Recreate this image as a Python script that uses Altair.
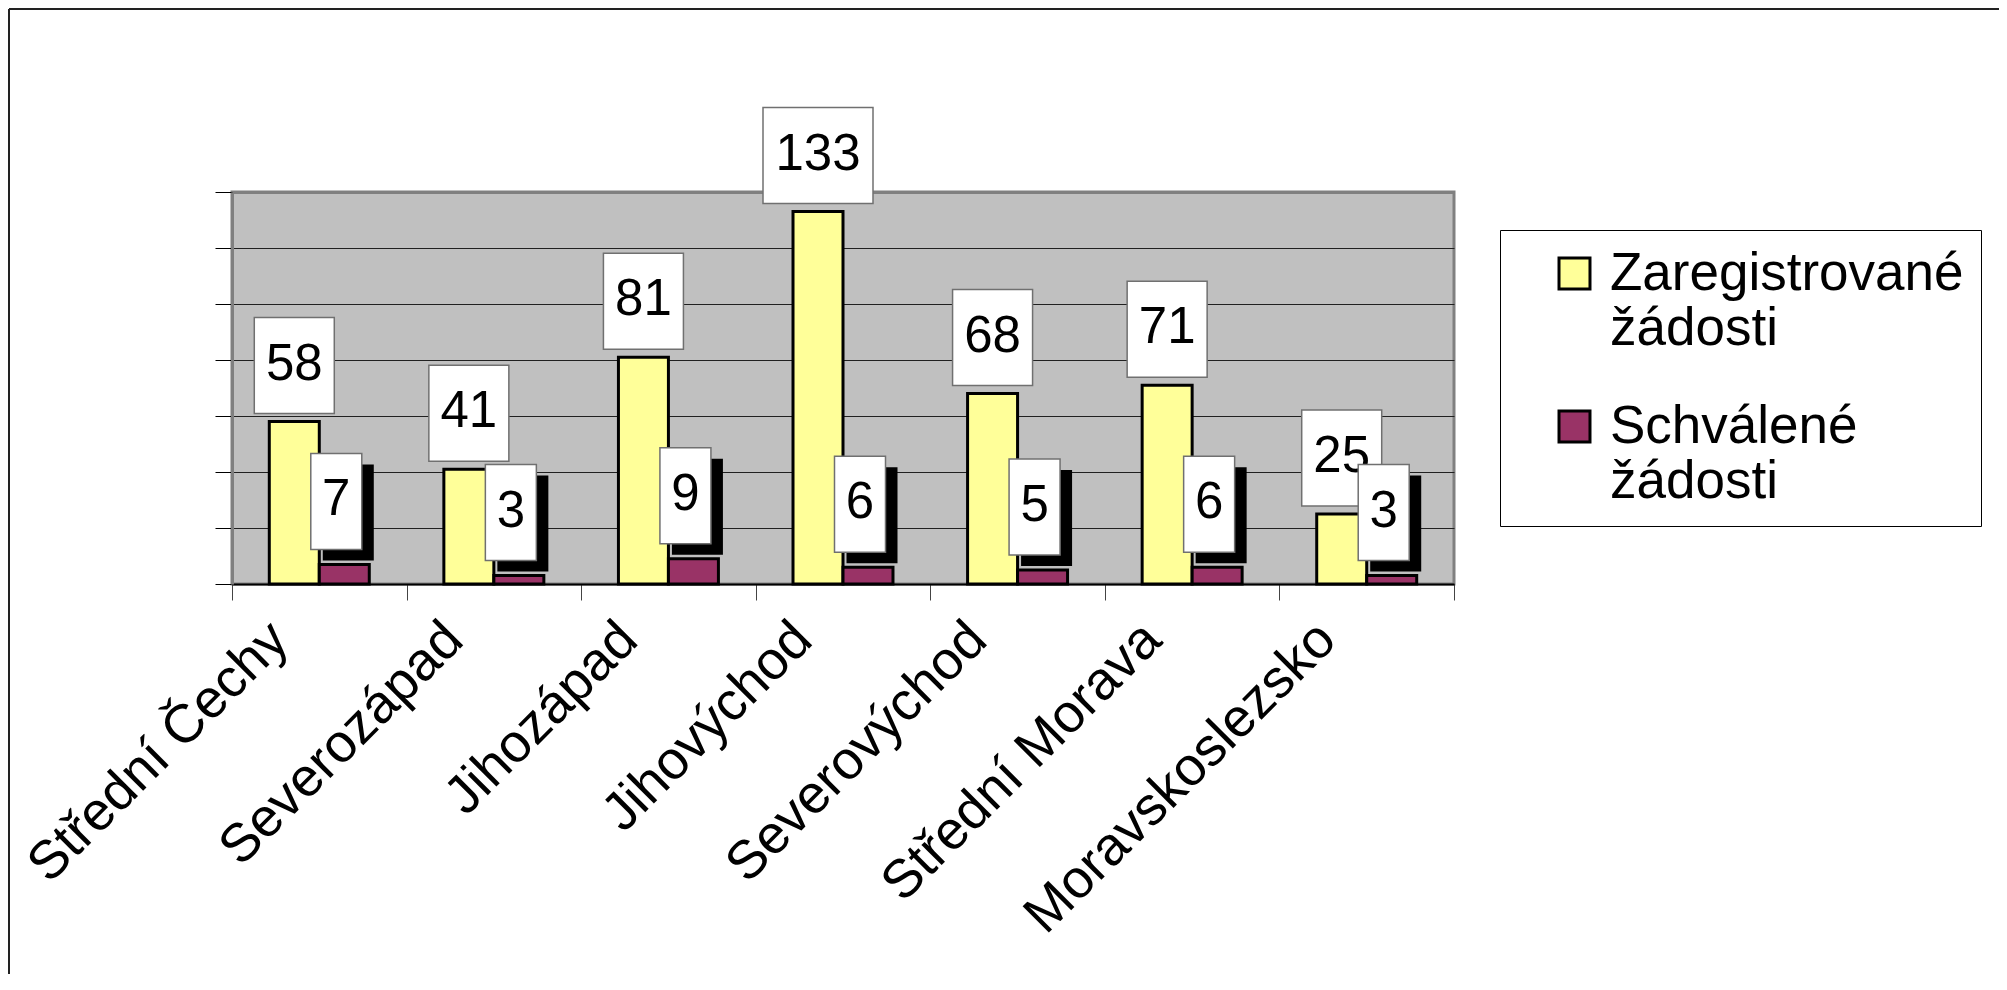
import altair as alt
import pandas as pd

regions = ["Střední Čechy", "Severozápad", "Jihozápad", "Jihovýchod",
           "Severovýchod", "Střední Morava", "Moravskoslezsko"]
registered = [58, 41, 81, 133, 68, 71, 25]
approved = [7, 3, 9, 6, 5, 6, 3]
series = ["Zaregistrované žádosti", "Schválené žádosti"]
colors = ["#FFFF99", "#993366"]
y_ticks = [0, 20, 40, 60, 80, 100, 120, 140]

rows = []
for r, a, b in zip(regions, registered, approved):
    rows.append({"region": r, "series": series[0], "s": 0, "value": a})
    rows.append({"region": r, "series": series[1], "s": 1, "value": b})
df = pd.DataFrame(rows)
df["value2"] = df["value"]
df["label"] = df["value"].astype(str)
df["digits"] = df["label"].str.len()

FONT = "Liberation Sans"
FS = 51
W, H = 1222, 392

x_enc = alt.X(
    "region:N", sort=regions, title=None,
    scale=alt.Scale(paddingInner=0, paddingOuter=0),
    axis=alt.Axis(
        labelAngle=315, labelAlign="right", labelBaseline="middle",
        labelFont=FONT, labelFontSize=54, labelColor="black",
        labelOffset=-40, labelPadding=31, labelLimit=1000,
        tickBand="extent", tickSize=16, tickColor="#444444", tickWidth=1,
        domainColor="black", domainWidth=2, grid=False, labelOverlap=False,
    ),
)
y_enc = alt.Y(
    "value:Q", title=None,
    scale=alt.Scale(domain=[0, 140], nice=False, zero=True),
    axis=alt.Axis(
        values=y_ticks, labels=False, tickSize=17, tickColor="black", tickWidth=1,
        domainColor="#808080", domainWidth=3,
        grid=True,
        gridColor={"condition": {"test": "datum.value >= 140", "value": "#808080"}, "value": "#202020"},
        gridWidth={"condition": {"test": "datum.value >= 140", "value": 3}, "value": 1},
    ),
)

base = alt.Chart(df)

bars = base.mark_bar(stroke="black", strokeWidth=3).encode(
    x=x_enc,
    xOffset=alt.XOffset("series:N", sort=series,
                        scale=alt.Scale(paddingInner=0, paddingOuter=0.746)),
    y=y_enc,
    color=alt.Color(
        "series:N", sort=series,
        scale=alt.Scale(domain=series, range=colors),
        legend=alt.Legend(
            title=None, orient="none", legendX=1268, legendY=38, direction="vertical",
            symbolType="square", symbolSize=960, symbolStrokeColor="black",
            symbolStrokeWidth=3, symbolOffset=31,
            labelFont=FONT, labelFontSize=53, labelColor="black", labelBaseline="middle",
            labelExpr="[split(datum.label, ' ')[0] + '\u2002', split(datum.label, ' ')[1]]",
            labelOffset=9, labelLimit=1000, rowPadding=44, padding=17,
            strokeColor="black", fillColor="white",
        ),
    ),
)


def box(filt, width, dx, top, bottom, fill, stroke=None):
    kw = dict(width=width, xOffset=dx, yOffset=top, y2Offset=bottom, fill=fill)
    if stroke:
        kw.update(stroke=stroke, strokeWidth=1.5)
    else:
        kw.update(strokeWidth=0)
    return base.transform_filter(filt).mark_bar(**kw).encode(
        x=x_enc, y=y_enc, y2="value2:Q"
    )


def txt(filt, dx, dy):
    return base.transform_filter(filt).mark_text(
        xOffset=dx, dy=dy, font=FONT, fontSize=FS, color="black",
        align="center", baseline="middle",
    ).encode(x=x_enc, y=y_enc, text="label:N")


big2 = "datum.s == 0 && datum.digits == 2"
big3 = "datum.s == 0 && datum.digits == 3"
small = "datum.s == 1"

layers = [
    bars,
    box(big2, 80, -25, -104, -8, "white", "#707070"),
    box(big3, 110, -25, -104, -8, "white", "#707070"),
    txt("datum.s == 0", -25, -57),
    box(small, 51, 29, -100, -4, "black"),
    box(small, 51, 17, -111, -15, "white", "#707070"),
    txt(small, 17, -64),
]

frame_df = pd.DataFrame({"k": [0]})
frame_left = alt.Chart(frame_df).mark_rule(color="#222222", strokeWidth=2).encode(
    x=alt.value(-223), y=alt.value(-183), y2=alt.value(800)
)
frame_top = alt.Chart(frame_df).mark_rule(color="#222222", strokeWidth=2).encode(
    x=alt.value(-223), x2=alt.value(1800), y=alt.value(-183)
)

chart = alt.layer(*layers, frame_left, frame_top).properties(
    width=W, height=H,
    padding={"left": 224, "top": 184, "right": 545, "bottom": 390},
    autosize=alt.AutoSizeParams(type="none"),
    background="white",
).configure_view(
    fill="#C0C0C0", stroke="#808080", strokeWidth=3
).configure_text(font=FONT)

chart.save("out.html", embed_options={"renderer": "svg", "actions": False})
